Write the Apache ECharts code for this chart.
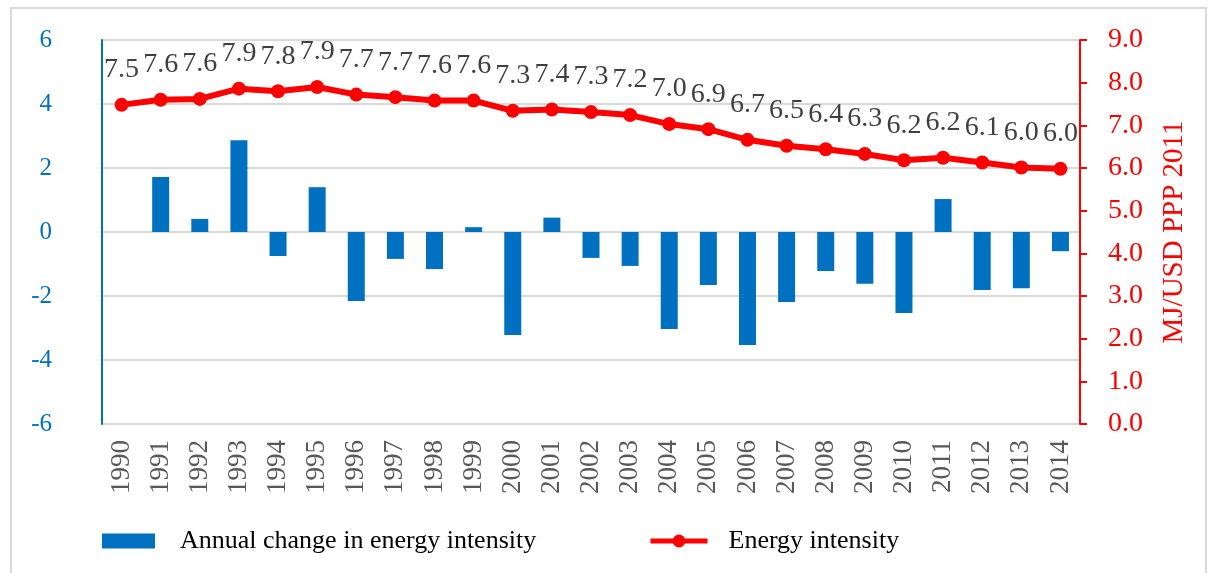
<!DOCTYPE html>
<html>
<head>
<meta charset="utf-8">
<script src="https://cdn.jsdelivr.net/npm/echarts@6/dist/echarts.min.js"></script>
<style>
  html, body { margin: 0; padding: 0; background: #fff; }
  #chart { width: 1212px; height: 573px; }
</style>
</head>
<body>
<div id="chart"></div>
<script>
const years = ["1990", "1991", "1992", "1993", "1994", "1995", "1996", "1997", "1998", "1999",
  "2000", "2001", "2002", "2003", "2004", "2005", "2006", "2007", "2008", "2009",
  "2010", "2011", "2012", "2013", "2014"];

// annual change in energy intensity (%), left axis
const annualChange = [null, 1.72, 0.41, 2.87, -0.75, 1.4, -2.16, -0.84, -1.16, 0.15,
  -3.22, 0.45, -0.81, -1.06, -3.03, -1.66, -3.53, -2.19, -1.22, -1.62,
  -2.53, 1.03, -1.81, -1.76, -0.6];

// energy intensity, MJ/USD PPP 2011, right axis
const intensity = [7.48, 7.6, 7.62, 7.86, 7.8, 7.9, 7.72, 7.66, 7.58, 7.58,
  7.34, 7.37, 7.31, 7.24, 7.03, 6.91, 6.66, 6.52, 6.44, 6.33,
  6.18, 6.24, 6.13, 6.01, 5.98];

const serif = "Liberation Serif";
const chart = echarts.init(document.getElementById("chart"));

chart.setOption({
  animation: false,
  textStyle: { fontFamily: serif },
  graphic: [{
    type: "rect",
    shape: { x: 11, y: 8, width: 1195, height: 580 },
    style: { fill: "none", stroke: "#d9d9d9", lineWidth: 2 },
    silent: true
  }],
  grid: { left: 102, right: 132, top: 40, bottom: 149 },
  legend: [
    {
      data: ["Annual change in energy intensity"],
      left: 97, top: 523,
      itemWidth: 53, itemHeight: 15,
      icon: "rect",
      textStyle: { fontFamily: serif, fontSize: 26, color: "#000", padding: [6, 0, 0, 20] }
    },
    {
      data: ["Energy intensity"],
      left: 643, top: 523,
      itemWidth: 57, itemHeight: 16,
      lineStyle: { width: 5 },
      textStyle: { fontFamily: serif, fontSize: 26, color: "#000", padding: [0, 0, 0, 16] }
    }
  ],
  xAxis: {
    type: "category",
    data: years,
    axisLine: { show: false },
    axisTick: { show: false },
    axisLabel: {
      rotate: 90,
      margin: 16,
      fontFamily: serif,
      fontSize: 27,
      color: "#595959"
    }
  },
  yAxis: [
    {
      type: "value",
      min: -6, max: 6, interval: 2,
      axisLine: { show: true, lineStyle: { color: "#0070C0", width: 2 } },
      axisTick: { show: false },
      axisLabel: { fontFamily: serif, fontSize: 25, color: "#0070C0", margin: 50 },
      splitLine: { lineStyle: { color: "#d9d9d9", width: 2 } }
    },
    {
      type: "value",
      min: 0, max: 9, interval: 1,
      position: "right",
      name: "MJ/USD PPP 2011",
      nameLocation: "middle",
      nameRotate: 90,
      nameGap: 80,
      nameTextStyle: { fontFamily: serif, fontSize: 29, color: "#ff0000" },
      axisLine: { show: true, lineStyle: { color: "#ff0000", width: 2 } },
      axisTick: { show: true, length: 7, lineStyle: { color: "#ff0000", width: 2 } },
      axisLabel: {
        fontFamily: serif, fontSize: 28, color: "#ff0000", margin: 28,
        formatter: v => v.toFixed(1)
      },
      splitLine: { show: false }
    }
  ],
  series: [
    {
      name: "Annual change in energy intensity",
      type: "bar",
      yAxisIndex: 0,
      data: annualChange,
      barWidth: 17,
      itemStyle: { color: "#0070C0" }
    },
    {
      name: "Energy intensity",
      type: "line",
      yAxisIndex: 1,
      data: intensity,
      symbol: "circle",
      symbolSize: 14,
      lineStyle: { color: "#ff0000", width: 6 },
      itemStyle: { color: "#ff0000" },
      label: {
        show: true,
        position: "top",
        distance: 14,
        fontFamily: serif,
        fontSize: 28,
        color: "#404040",
        formatter: p => p.value.toFixed(1)
      }
    }
  ]
});
</script>
</body>
</html>
